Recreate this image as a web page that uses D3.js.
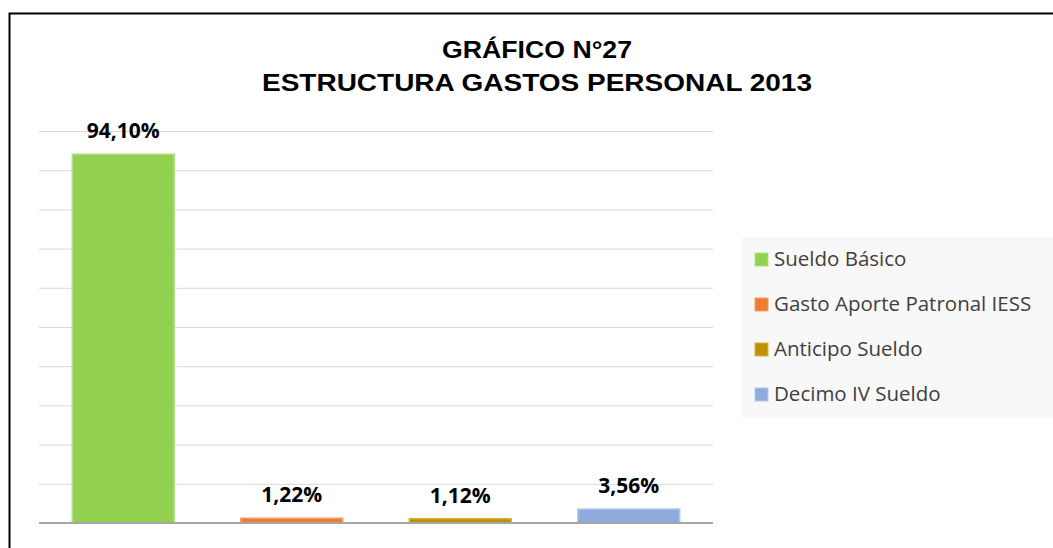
<!DOCTYPE html>
<html>
<head>
	<meta charset="utf-8">
	<title>Estructura Gastos Personal 2013</title>
	<script src="https://cdn.jsdelivr.net/npm/d3@7"></script>
	<style type="text/css">
	body{
		margin: 0;
		background: #fff;
	}
	svg{display:block;}
	.title{
		font-family: "Liberation Sans", Arial, sans-serif;
		font-weight: bold;
		font-size: 24px;
		fill: #000;
	}
	.lbl{
		font-family: "Open Sans", sans-serif;
		font-weight: 700;
		font-size: 21px;
		fill: #000;
	}
	.legend text{
		font-family: "Open Sans", sans-serif;
		font-size: 20.5px;
		fill: #404040;
	}
	.grid line{
		stroke: #d9d9d9;
	}
	</style>
</head>
<body>
<div id="chart"></div>
<script type="text/javascript">

var categories = ['Sueldo Básico', 'Gasto Aporte Patronal IESS', 'Anticipo Sueldo', 'Decimo IV Sueldo'];
var values = [94.10, 1.22, 1.12, 3.56];
var labels = ['94,10%', '1,22%', '1,12%', '3,56%'];
var yTicks = [0, 10, 20, 30, 40, 50, 60, 70, 80, 90, 100];
var titleLines = ['GRÁFICO N°27', 'ESTRUCTURA GASTOS PERSONAL 2013'];

var colors = ['#92d050', '#ed7d31', '#bf9000', '#8faadc'];
var strokes = ['#b4e08c', '#f4a06e', '#d8b545', '#b4c8ec'];

var W = 1053, H = 548;
var plot = {left: 39, right: 713, top: 131, bottom: 523};

var svg = d3.select('#chart').append('svg')
	.attr('width', W)
	.attr('height', H);

// outer frame (right and bottom edges fall outside the picture)
svg.append('rect')
	.attr('x', 9.5).attr('y', 13.5)
	.attr('width', 1100).attr('height', 600)
	.attr('fill', '#fff')
	.attr('stroke', '#000')
	.attr('stroke-width', 2);

// title, stretched a bit like the original
var titleY = [58, 91], titleW = [190, 550];
svg.selectAll('text.title')
	.data(titleLines)
	.enter()
	.append('text').attr('class', 'title')
		.attr('x', 537)
		.attr('y', function(d, i){ return titleY[i]; })
		.attr('text-anchor', 'middle')
		.attr('textLength', function(d, i){ return titleW[i]; })
		.attr('lengthAdjust', 'spacingAndGlyphs')
		.text(function(d){ return d; });

var x = d3.scaleBand()
	.domain(categories)
	.range([plot.left, plot.right])
	.paddingInner(0.395)
	.paddingOuter(0.1975);

var y = d3.scaleLinear()
	.domain([0, 100])
	.range([plot.bottom, plot.top]);

// gridlines
svg.append('g')
	.attr('class', 'grid')
	.attr('transform', 'translate(' + plot.left + ',0)')
	.call(d3.axisLeft(y).tickValues(yTicks).tickSize(-(plot.right - plot.left)).tickFormat(''))
	.call(function(g){ g.select('.domain').remove(); });

svg.append('g')
	.selectAll('rect')
	.data(values)
	.enter()
	.append('rect')
		.attr('x', function(d, i){ return x(categories[i]); })
		.attr('y', function(d){ return y(d); })
		.attr('width', x.bandwidth())
		.attr('height', function(d){ return y(0) - y(d); })
		.attr('fill', function(d, i){ return colors[i]; })
		.attr('stroke', function(d, i){ return strokes[i]; })
		.attr('stroke-width', 1.5);

// baseline
svg.append('line')
	.attr('x1', plot.left).attr('x2', plot.right)
	.attr('y1', y(0)).attr('y2', y(0))
	.attr('stroke', '#a6a6a6')
	.attr('stroke-width', 2);

svg.append('g')
	.selectAll('text')
	.data(values)
	.enter()
	.append('text')
		.attr('class', 'lbl')
		.attr('text-anchor', 'middle')
		.attr('x', function(d, i){ return x(categories[i]) + x.bandwidth() / 2; })
		.attr('y', function(d){ return y(d) - 16; })
		.text(function(d, i){ return labels[i]; });

// legend
var legend = svg.append('g').attr('class', 'legend');
legend.append('rect')
	.attr('x', 742).attr('y', 237)
	.attr('width', 320).attr('height', 181)
	.attr('fill', '#f8f8f8');

var item = legend.selectAll('g.item')
	.data(categories)
	.enter()
	.append('g')
		.attr('class', 'item')
		.attr('transform', function(d, i){ return 'translate(755,' + (253 + i * 45) + ')'; });

item.append('rect')
	.attr('width', 13).attr('height', 13)
	.attr('fill', function(d, i){ return colors[i]; })
	.attr('stroke', function(d, i){ return strokes[i]; })
	.attr('stroke-width', 1);

item.append('text')
	.attr('x', 19)
	.attr('y', 13)
	.text(function(d){ return d; });

</script>
</body>
</html>
